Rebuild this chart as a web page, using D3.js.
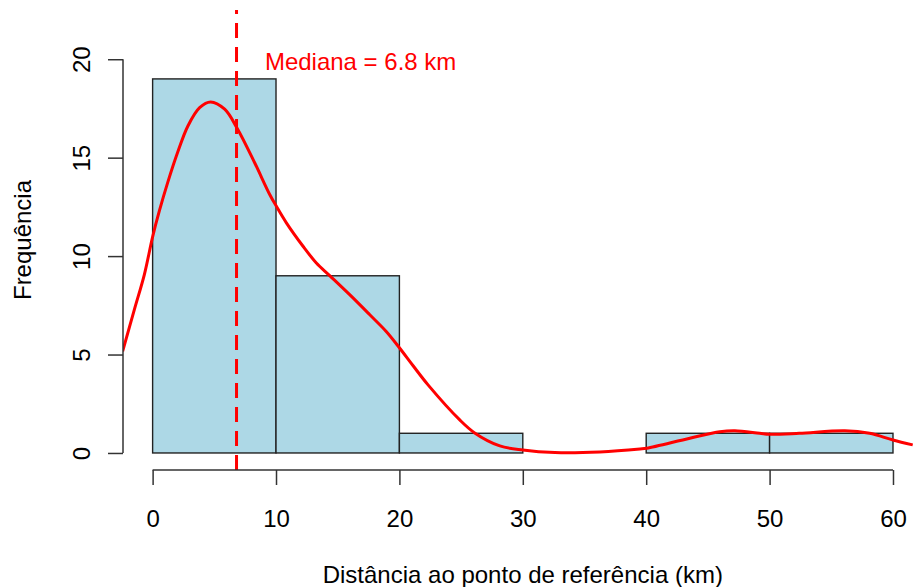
<!DOCTYPE html>
<html>
<head>
<meta charset="utf-8">
<script src="https://cdn.jsdelivr.net/npm/d3@7"></script>
<style>
  html, body { margin: 0; padding: 0; background: #fff; }
  svg { display: block; }
  text { font-family: "Liberation Sans", Arial, sans-serif; }
</style>
</head>
<body>
<svg id="chart" width="913" height="587"></svg>
<script>
// Histogram bins (km) and counts
const binEdges = [0, 10, 20, 30, 40, 50, 60];
const counts = [19, 9, 1, 0, 1, 1];

// Kernel density estimate, scaled to counts: distance (km)
const densX = [-2.43, -1.48, -0.67, 0.0, 0.54, 1.22, 2.03, 2.86, 3.81, 4.70,
               5.84, 6.87, 8.27, 9.49, 10.03, 10.84, 12.19, 13.27, 14.35, 15.97,
               17.6, 18.95, 20.03, 21.11, 22.32, 24.89, 26.1, 28.14, 30.0, 32.6,
               36.24, 39.49, 40.05, 43.54, 45.97, 47.19, 49.2, 50.0, 52.4, 56.1,
               58.1, 60.0, 61.6];
// ...and the matching scaled density values
const densY = [5.16, 7.28, 9.06, 10.98, 12.28, 13.73, 15.27, 16.61, 17.54, 17.83,
               17.46, 16.47, 14.74, 13.13, 12.53, 11.69, 10.50, 9.65, 9.01, 8.04,
               7.02, 6.16, 5.32, 4.43, 3.46, 1.68, 1.02, 0.36, 0.15, 0.02,
               0.05, 0.2, 0.24, 0.75, 1.08, 1.13, 1.0, 0.95, 1.0, 1.13,
               1.0, 0.66, 0.41];

const median = 6.8;
const medianLabel = "Mediana = 6.8 km";
const xTicks = [0, 10, 20, 30, 40, 50, 60];
const yTicks = [0, 5, 10, 15, 20];
const xTitle = "Distância ao ponto de referência (km)";
const yTitle = "Frequência";

const svg = d3.select("#chart");

// Plot region: x from -2.4 to 62.4, y from -0.865 to 22.5
const x = d3.scaleLinear().domain([-2.4, 62.4]).range([123, 922.6]);
const y = d3.scaleLinear().domain([-0.865, 22.5]).range([470, 10]);

const FONT = 24;
const AXIS = "#333";

svg.append("defs").append("clipPath").attr("id", "plotclip")
  .append("rect")
  .attr("x", x.range()[0]).attr("y", y.range()[1])
  .attr("width", x.range()[1] - x.range()[0])
  .attr("height", y.range()[0] - y.range()[1]);

// Bars
const bins = counts.map((c, i) => ({ x0: binEdges[i], x1: binEdges[i + 1], n: c }));
svg.append("g").selectAll("rect").data(bins).join("rect")
  .attr("x", d => x(d.x0))
  .attr("y", d => y(d.n))
  .attr("width", d => x(d.x1) - x(d.x0))
  .attr("height", d => y(0) - y(d.n))
  .attr("fill", "#ADD8E6")
  .attr("stroke", "#222")
  .attr("stroke-width", 1.4);

// Density curve
const pts = densX.map((v, i) => [v, densY[i]]);
const line = d3.line().x(d => x(d[0])).y(d => y(d[1])).curve(d3.curveCatmullRom.alpha(0.5));
svg.append("path")
  .attr("d", line(pts))
  .attr("clip-path", "url(#plotclip)")
  .attr("fill", "none")
  .attr("stroke", "#FF0000")
  .attr("stroke-width", 3);

// Median line
svg.append("line")
  .attr("x1", x(median)).attr("x2", x(median))
  .attr("y1", y.range()[0]).attr("y2", y.range()[1])
  .attr("stroke", "#FF0000")
  .attr("stroke-width", 3)
  .attr("stroke-dasharray", "15,9");

svg.append("text")
  .attr("x", x(9.1)).attr("y", y(19.86) + 8)
  .attr("fill", "#FF0000")
  .attr("font-size", FONT)
  .text(medianLabel);

// X axis
const xAxis = svg.append("g")
  .attr("transform", `translate(0,${y.range()[0]})`)
  .call(d3.axisBottom(x).tickValues(xTicks).tickSize(15).tickPadding(0).tickFormat(d3.format("d")));
xAxis.select(".domain").attr("d", `M${x(xTicks[0])},0H${x(xTicks[xTicks.length - 1])}`);
xAxis.selectAll("line, path").attr("stroke", AXIS).attr("stroke-width", 1.5);
xAxis.selectAll("text")
  .attr("font-size", FONT)
  .attr("font-family", "Liberation Sans, Arial, sans-serif")
  .attr("fill", "#000")
  .attr("dy", null)
  .attr("y", 57);

// Y axis
const yAxis = svg.append("g")
  .attr("transform", `translate(${x.range()[0]},0)`)
  .call(d3.axisLeft(y).tickValues(yTicks).tickSize(15).tickFormat(d3.format("d")));
yAxis.select(".domain").attr("d", `M0,${y(yTicks[0])}V${y(yTicks[yTicks.length - 1])}`);
yAxis.selectAll("line, path").attr("stroke", AXIS).attr("stroke-width", 1.5);
yAxis.selectAll("text")
  .attr("font-size", FONT)
  .attr("font-family", "Liberation Sans, Arial, sans-serif")
  .attr("fill", "#000")
  .attr("x", null).attr("dy", null)
  .attr("text-anchor", "middle")
  .attr("transform", "translate(-33,0) rotate(-90)");

// Axis titles
svg.append("text")
  .attr("x", (x.range()[0] + x.range()[1]) / 2)
  .attr("y", 583)
  .attr("text-anchor", "middle")
  .attr("font-size", FONT)
  .text(xTitle);

svg.append("text")
  .attr("transform", `translate(31,${(y.range()[0] + y.range()[1]) / 2}) rotate(-90)`)
  .attr("text-anchor", "middle")
  .attr("font-size", FONT)
  .text(yTitle);
</script>
</body>
</html>
